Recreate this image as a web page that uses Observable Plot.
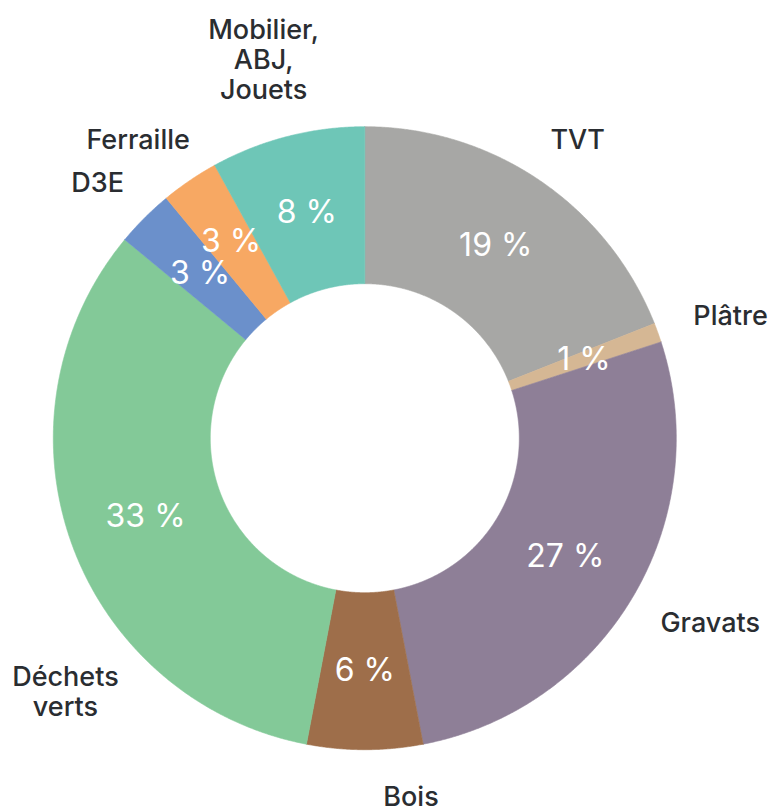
<!DOCTYPE html>
<html>
<head>
<meta charset="utf-8">
<script src="https://cdn.jsdelivr.net/npm/d3@7"></script>
<script src="https://cdn.jsdelivr.net/npm/@observablehq/plot@0.6"></script>
<style>
  html, body { margin: 0; padding: 0; background: #ffffff; }
  #chart svg { display: block; }
</style>
</head>
<body>
<div id="chart"></div>
<script>
// ---- Data ----
const categories = ["TVT", "Plâtre", "Gravats", "Bois", "Déchets verts", "D3E", "Ferraille", "Mobilier, ABJ, Jouets"];
const labelTexts = ["TVT", "Plâtre", "Gravats", "Bois", "Déchets\nverts", "D3E", "Ferraille", "Mobilier,\nABJ,\nJouets"];
const values = [19, 1, 27, 6, 33, 3, 3, 8];
const colors = ["#a7a7a5", "#d5b794", "#8e7f97", "#9e6e4a", "#83c998", "#6b90cb", "#f7a863", "#6ec6b7"];

// ---- Layout ----
const W = 775, H = 812;
const CX = 364.3, CY = 437.7;      // ring centre in the frame
const R = 311.5, r = 154.5;        // outer / inner radius
const GAP = 40;                    // distance of outer labels from ring
const LABEL_FONT = "Inter, 'Noto Sans', sans-serif";
const LABEL_SIZE = 27, LABEL_LH = 30;
const PCT_SIZE = 32;

const total = d3.sum(values);
let acc = 0;
const slices = categories.map((name, i) => {
  const a0 = acc / total * 2 * Math.PI;
  acc += values[i];
  const a1 = acc / total * 2 * Math.PI;
  return {name, value: values[i], a0, a1, mid: (a0 + a1) / 2, label: labelTexts[i]};
});

// ring polygons (data units, y up, angle clockwise from north)
const ringPts = [];
for (const s of slices) {
  const n = Math.max(2, Math.ceil((s.a1 - s.a0) / 0.004) + 1);
  const pts = [];
  for (let k = 0; k < n; k++) { const a = s.a0 + (s.a1 - s.a0) * k / (n - 1); pts.push([R * Math.sin(a), R * Math.cos(a)]); }
  for (let k = n - 1; k >= 0; k--) { const a = s.a0 + (s.a1 - s.a0) * k / (n - 1); pts.push([r * Math.sin(a), r * Math.cos(a)]); }
  pts.push(pts[0]);
  for (const [x, y] of pts) ringPts.push({name: s.name, x, y});
}

// ---- outer label placement ----
const ctx = document.createElement("canvas").getContext("2d");
const capH = LABEL_SIZE * 0.73;
function placeAt(theta, w, h) {
  const ux = Math.sin(theta), uy = Math.cos(theta);
  return {x: (R + GAP) * ux + ux * w / 2, y: (R + GAP) * uy + uy * h / 2};
}
function fits(p, w, n) {
  const sx = CX + p.x, sy = CY - p.y;
  const top = sy - (n - 1) * LABEL_LH / 2 + 0.32 * LABEL_SIZE - 0.78 * LABEL_SIZE;
  const bottom = sy + (n - 1) * LABEL_LH / 2 + 0.32 * LABEL_SIZE + 0.22 * LABEL_SIZE;
  return sx - w / 2 >= 10 && sx + w / 2 <= W - 6 && top >= 2 && bottom <= H - 1;
}
ctx.font = `500 ${LABEL_SIZE}px ${LABEL_FONT}`;
const outerLabels = slices.map(s => {
  const lines = s.label.split("\n");
  const w = d3.max(lines, l => ctx.measureText(l).width);
  const h = (lines.length - 1) * LABEL_LH + capH;
  let p = placeAt(s.mid, w, h);
  if (!fits(p, w, lines.length)) {
    for (let d = 0.5; d <= 80; d += 0.5) {
      const rad = d * Math.PI / 180;
      const a = placeAt(s.mid - rad, w, h), b = placeAt(s.mid + rad, w, h);
      if (fits(a, w, lines.length)) { p = a; break; }
      if (fits(b, w, lines.length)) { p = b; break; }
    }
  }
  return {name: s.name, text: s.label, x: p.x, y: p.y};
});

// ---- percentage labels inside the ring, pushed outwards if they collide ----
ctx.font = `400 ${PCT_SIZE}px ${LABEL_FONT}`;
const pctPlaced = [];
const pctLabels = slices.map(s => {
  const text = `${s.value} %`;
  const w = ctx.measureText(text).width, h = PCT_SIZE;
  let rho = (R + r) / 2, box;
  const boxAt = q => ({x0: q * Math.sin(s.mid) - w / 2, x1: q * Math.sin(s.mid) + w / 2, y0: q * Math.cos(s.mid) - h / 2, y1: q * Math.cos(s.mid) + h / 2});
  const hit = b => pctPlaced.some(o => b.x0 < o.x1 && b.x1 > o.x0 && b.y0 < o.y1 && b.y1 > o.y0);
  box = boxAt(rho);
  while (hit(box) && rho < R - 20) { rho += 1; box = boxAt(rho); }
  pctPlaced.push(box);
  return {name: s.name, text, x: rho * Math.sin(s.mid), y: rho * Math.cos(s.mid)};
});

const chart = Plot.plot({
  width: W,
  height: H,
  margin: 0,
  x: {domain: [-CX, W - CX], axis: null},
  y: {domain: [-(H - CY), CY], axis: null},
  color: {domain: categories, range: colors},
  marks: [
    Plot.line(ringPts, {x: "x", y: "y", z: "name", fill: "name", stroke: "name", strokeWidth: 0.6, curve: "linear"}),
    Plot.text(pctLabels, {x: "x", y: "y", text: "text", fill: "white", fontSize: PCT_SIZE, fontFamily: LABEL_FONT, fontWeight: 400}),
    Plot.text(outerLabels, {x: "x", y: "y", text: "text", fill: "#2a2d31", fontSize: LABEL_SIZE, fontFamily: LABEL_FONT, fontWeight: 500, lineHeight: LABEL_LH / LABEL_SIZE, textAnchor: "middle"})
  ]
});
document.getElementById("chart").appendChild(chart);
</script>
</body>
</html>
